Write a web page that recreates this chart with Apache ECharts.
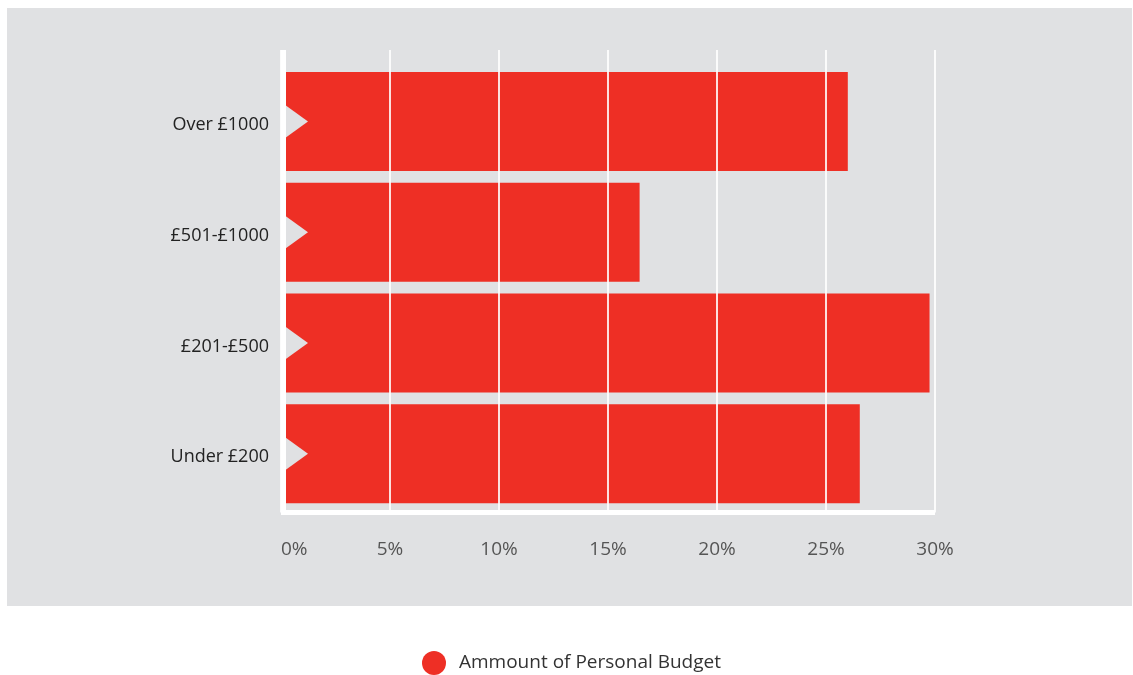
<!DOCTYPE html>
<html>
<head>
<meta charset="utf-8">
<script src="https://cdn.jsdelivr.net/npm/echarts@6/dist/echarts.min.js"></script>
<style>
html,body{margin:0;padding:0;background:#ffffff;}
#chart{width:1133px;height:675px;}
</style>
</head>
<body>
<div id="chart"></div>
<script>
const categories = ['Over £1000', '£501-£1000', '£201-£500', 'Under £200'];
const values = [26.0, 16.45, 29.75, 26.55];
const seriesName = 'Ammount of Personal Budget';
const xTickMin = 0, xTickMax = 30, xTickStep = 5;

const FONT = '"Open Sans", "Noto Sans", sans-serif';
const PANEL = '#e0e1e3';
const RED = '#ee2f25';

const chart = echarts.init(document.getElementById('chart'), null, {renderer: 'canvas'});

const option = {
  backgroundColor: '#ffffff',
  animation: false,
  graphic: {
    elements: [{
      type: 'rect', z: -100, silent: true,
      shape: {x: 7, y: 8, width: 1125, height: 598},
      style: {fill: PANEL}
    }]
  },
  legend: {
    data: [seriesName],
    left: 417, top: 646,
    icon: 'circle',
    itemWidth: 24, itemHeight: 24,
    textStyle: {fontFamily: FONT, fontSize: 19, color: '#333', padding: [0, 0, 0, 8]}
  },
  grid: [
    {left: 281, width: 654, top: 50, height: 462.5, containLabel: false},
    {left: 281, width: 654, top: 66, height: 443, containLabel: false}
  ],
  xAxis: [
    {
      gridIndex: 0, type: 'value', min: xTickMin, max: xTickMax, interval: xTickStep,
      z: 5, offset: 2.5,
      axisLine: {show: true, lineStyle: {color: '#ffffff', width: 5, cap: 'butt'}},
      axisTick: {show: false},
      splitLine: {show: true, lineStyle: {color: 'rgba(255,255,255,0.85)', width: 2}},
      axisLabel: {
        formatter: '{value}%', margin: 25, alignMinLabel: 'left',
        fontFamily: FONT, fontSize: 19, color: '#555'
      }
    },
    {
      gridIndex: 1, type: 'value', min: xTickMin, max: xTickMax, interval: xTickStep,
      show: false
    }
  ],
  yAxis: [
    {
      gridIndex: 0, type: 'value', min: 0, max: 1, z: 5, offset: -2.5,
      axisLine: {show: true, lineStyle: {color: '#ffffff', width: 5, cap: 'butt'}},
      axisTick: {show: false}, axisLabel: {show: false}, splitLine: {show: false}
    },
    {
      gridIndex: 1, type: 'category', data: categories, inverse: true,
      axisLine: {show: false}, axisTick: {show: false}, splitLine: {show: false},
      axisLabel: {
        margin: 12, fontFamily: FONT, fontSize: 18, color: '#222',
        formatter: function (v) { return '{a|' + v + '}'; },
        rich: {a: {fontFamily: FONT, fontSize: 18, color: '#222', padding: [7, 0, 0, 0]}}
      }
    }
  ],
  series: [
    {
      name: seriesName, type: 'bar', xAxisIndex: 1, yAxisIndex: 1,
      data: values, barWidth: 99, z: 2,
      itemStyle: {color: RED}
    },
    {
      name: 'notch', type: 'custom', xAxisIndex: 1, yAxisIndex: 1, z: 3,
      silent: true,
      data: categories.map((c, i) => [0, i]),
      renderItem: function (params, api) {
        const p = api.coord([api.value(0), api.value(1)]);
        const x0 = p[0], cy = p[1];
        return {
          type: 'polygon',
          shape: {points: [[x0, cy - 19.5], [x0 + 27, cy], [x0, cy + 19.5]]},
          style: {fill: PANEL}
        };
      }
    }
  ]
};
chart.setOption(option);
</script>
</body>
</html>
